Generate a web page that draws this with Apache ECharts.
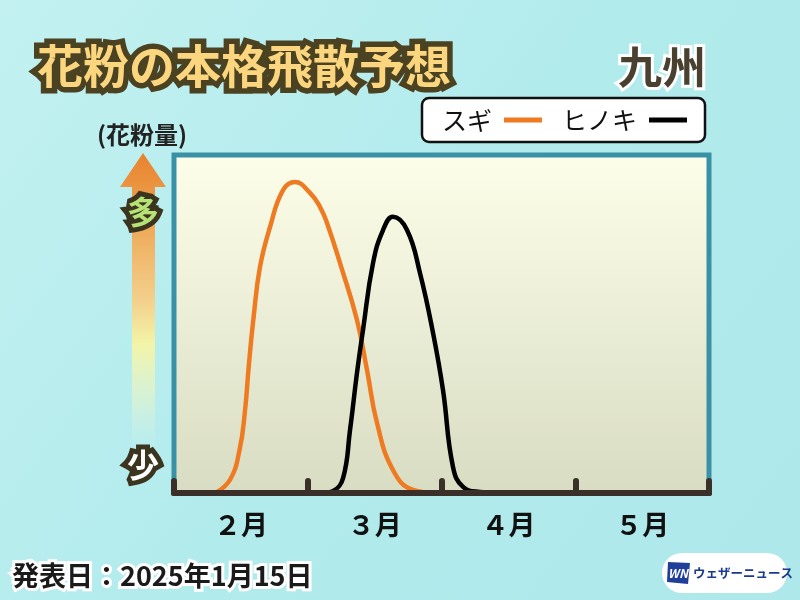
<!DOCTYPE html>
<html>
<head>
<meta charset="utf-8">
<script src="https://cdn.jsdelivr.net/npm/echarts@6/dist/echarts.min.js"></script>
<style>html,body{margin:0;padding:0;}#c{width:800px;height:600px;}</style>
</head>
<body>
<div id="c"></div>
<script>
// x: months from start of February (0) to end of May (4); y: relative pollen amount (0-100)
const monthLabels = ['２月', '３月', '４月', '５月'];
const sugiData = [
  [0.31, 0], [0.42, 4], [0.49, 12.7], [0.53, 24], [0.56, 38], [0.595, 52], [0.643, 66.9],
  [0.718, 78.7], [0.815, 89.6], [0.905, 92], [1.017, 88.8], [1.092, 84.6], [1.144, 79.9],
  [1.25, 66.9], [1.368, 51.2], [1.443, 36.4], [1.518, 20.7], [1.637, 6.8], [1.787, 0.9], [1.966, 0]
];
const hinokiData = [
  [1.107, 0], [1.19, 0.6], [1.264, 4.4], [1.316, 18.6], [1.368, 35.5], [1.413, 48.2], [1.488, 68],
  [1.563, 77.8], [1.637, 81.7], [1.742, 77.8], [1.839, 65.1], [1.937, 47.3], [2.011, 30.5],
  [2.086, 7.7], [2.161, 1.8], [2.288, 0.3], [2.437, 0]
];
const seriesNames = ['スギ', 'ヒノキ'];
const titleText = '花粉の本格飛散予想';
const regionText = '九州';
const unitText = '(花粉量)';
const dateText = '発表日：2025年1月15日';

const FONT = '"Noto Sans CJK JP", "Noto Sans", sans-serif';
const chart = echarts.init(document.getElementById('c'));
const LG = (stops, x2 = 0, y2 = 1) => new echarts.graphic.LinearGradient(0, 0, x2, y2, stops);

// outlined text: stroke layer under fill layer
function outlined(text, x, y, font, fill, stroke, lw, align) {
  const base = {text, font, textAlign: align || 'center', textVerticalAlign: 'middle'};
  return [
    {type: 'text', z: 10, x, y, style: Object.assign({}, base, {fill: stroke, stroke: stroke, lineWidth: lw, lineJoin: 'round'})},
    {type: 'text', z: 11, x, y, style: Object.assign({}, base, {fill: fill})}
  ];
}

chart.setOption({
  backgroundColor: {
    type: 'linear', x: 0, y: 0, x2: 1, y2: 1,
    colorStops: [{offset: 0, color: '#c3f1f1'}, {offset: 0.5, color: '#b2ebec'}, {offset: 1, color: '#aee8ea'}]
  },
  textStyle: {fontFamily: FONT},
  grid: {
    left: 174, right: 91, top: 155, bottom: 107,
    show: true, borderColor: '#3a91a6', borderWidth: 5,
    backgroundColor: {
      type: 'linear', x: 0, y: 0, x2: 0, y2: 1,
      colorStops: [{offset: 0, color: '#fdfee9'}, {offset: 1, color: '#d8dcc2'}]
    }
  },
  legend: {
    data: seriesNames,
    left: 422, top: 98,
    align: 'right',
    icon: 'rect',
    itemWidth: 38, itemHeight: 5, itemGap: 20,
    padding: [8, 18, 8, 20],
    backgroundColor: '#ffffff', borderColor: '#111111', borderWidth: 2.5, borderRadius: 7,
    itemStyle: {borderWidth: 0},
    textStyle: {fontSize: 25, color: '#111', fontFamily: FONT, padding: [0, 7, 0, 0], lineHeight: 28}
  },
  xAxis: [
    {
      type: 'value', min: 0, max: 4, interval: 1, z: 5,
      axisLine: {show: true, lineStyle: {color: '#3b2f2a', width: 6, cap: 'round'}},
      axisTick: {show: true, inside: true, length: 12, lineStyle: {color: '#3b2f2a', width: 6, cap: 'round'}},
      axisLabel: {show: false},
      splitLine: {show: false}
    },
    {
      type: 'category', data: monthLabels, position: 'bottom',
      axisLine: {show: false}, axisTick: {show: false}, splitLine: {show: false},
      axisLabel: {fontSize: 27, color: '#111', fontWeight: 'bold', margin: 18, fontFamily: FONT}
    }
  ],
  yAxis: {type: 'value', min: 0, max: 100, show: false, splitLine: {show: false}},
  series: [
    {
      name: seriesNames[0], type: 'line', data: sugiData, xAxisIndex: 0,
      smooth: 0.45, showSymbol: false, symbol: 'none',
      color: '#ee7b22', lineStyle: {color: '#ee7b22', width: 4.5}
    },
    {
      name: seriesNames[1], type: 'line', data: hinokiData, xAxisIndex: 0,
      smooth: 0.45, showSymbol: false, symbol: 'none',
      color: '#000000', lineStyle: {color: '#000000', width: 4.5}
    }
  ],
  graphic: [].concat(
    outlined(titleText, 244, 66, 'bold 46px ' + FONT, '#fcd67f', '#4b4222', 11),
    outlined(regionText, 662, 67, 'bold 44px ' + FONT, '#4a4030', '#ffffff', 6),
    [{
      type: 'text', z: 10, x: 142, y: 135,
      style: {
        text: unitText, font: 'bold 24px ' + FONT, textAlign: 'center', textVerticalAlign: 'middle',
        fill: '#222'
      }
    },
    {
      type: 'polygon', z: 9,
      shape: {points: [[143, 153], [166, 187], [155, 187], [155, 448], [132, 448], [132, 187], [120, 187]]},
      style: {
        fill: LG([
          {offset: 0, color: '#e8822e'}, {offset: 0.2, color: '#eda24f'}, {offset: 0.5, color: '#f3d08c'},
          {offset: 0.65, color: '#f2f5a8'}, {offset: 0.85, color: 'rgba(235,245,200,0.5)'},
          {offset: 1, color: 'rgba(220,245,235,0.05)'}
        ])
      }
    }],
    outlined('多', 143, 212, 'bold 32px ' + FONT, '#b6e276', '#3b3520', 10),
    outlined('少', 143, 465, 'bold 32px ' + FONT, '#ffffff', '#3b3520', 10),
    outlined(dateText, 12, 576, 'bold 27px ' + FONT, '#1a1a1a', '#ffffff', 6, 'left'),
    [{
      type: 'group', z: 10,
      children: [
        {type: 'rect', shape: {x: 662, y: 553, width: 125, height: 40, r: 20}, style: {fill: '#ffffff'}},
        {type: 'polygon', shape: {points: [[668, 562], [690, 563], [688, 584], [667, 582]]}, style: {fill: '#1f3f9a'}},
        {type: 'text', x: 678, y: 573, style: {text: 'WN', font: 'italic bold 12px ' + FONT, fill: '#ffffff', textAlign: 'center', textVerticalAlign: 'middle'}},
        {type: 'text', x: 693, y: 573, style: {text: 'ウェザーニュース', font: 'bold 12.5px ' + FONT, fill: '#1b3a8c', textAlign: 'left', textVerticalAlign: 'middle'}}
      ]
    }]
  )
});
</script>
</body>
</html>
